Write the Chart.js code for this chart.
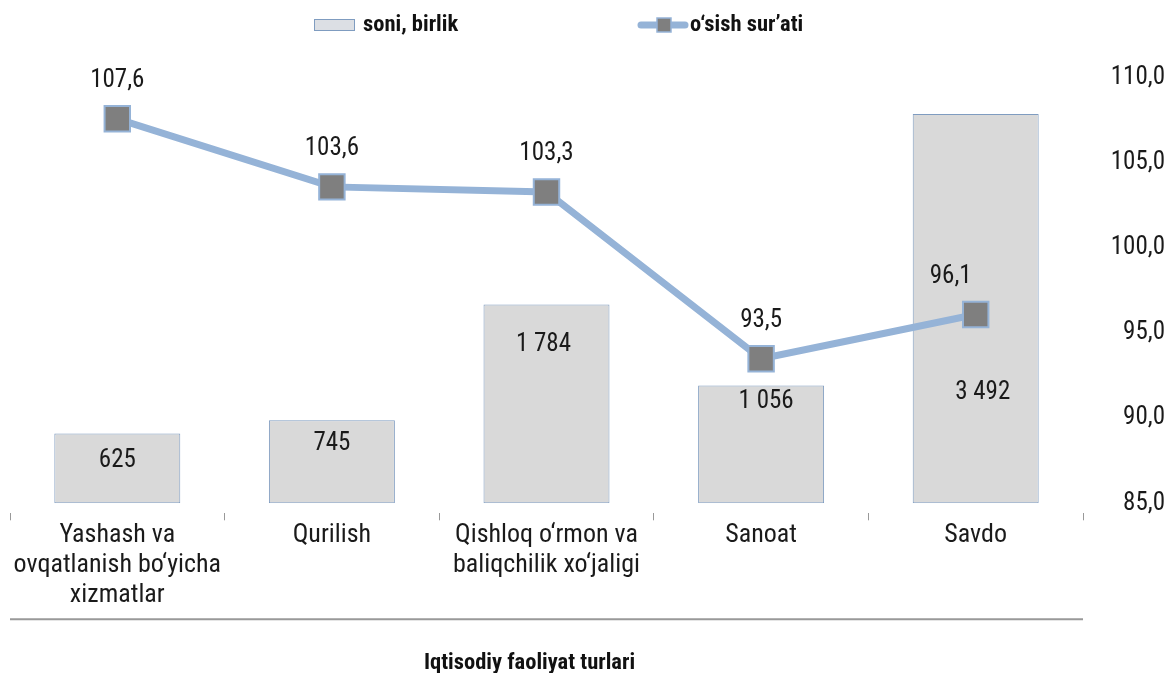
<!DOCTYPE html>
<html>
<head>
<meta charset="utf-8">
<script src="https://cdn.jsdelivr.net/npm/chart.js@4/dist/chart.umd.min.js"></script>
<style>
  body { margin: 0; background: #fff; }
  #wrap { width: 1175px; height: 673px; position: relative; }
</style>
</head>
<body>
<div id="wrap"><canvas id="chart"></canvas></div>
<script>
// ma'lumotlar
const turlar = [
  ['Yashash va', 'ovqatlanish bo‘yicha', 'xizmatlar'],
  'Qurilish',
  ['Qishloq o‘rmon va', 'baliqchilik xo‘jaligi'],
  'Sanoat',
  'Savdo'
];
const soni = [625, 745, 1784, 1056, 3492];
const osish = [107.6, 103.6, 103.3, 93.5, 96.1];
const osishTicks = [85, 90, 95, 100, 105, 110];

// yozuvlar joylashuvi (faqat ko'rinish uchun)
const barLabelDy = [27, 24, 40, 16, 279];
const barLabelDx = [0, 0, -3, 5, 7];
const lineLabelDx = [0, 0, 0, 0, -25];

const FONT = "'Roboto Condensed', 'DejaVu Sans Condensed', Roboto, sans-serif";
const TEXT = '#1a1a1a';
const BAR_FILL = '#d9d9d9';
const BAR_EDGE = '#7f9cc0';
const LINE = '#95b3d7';
const MARK = '#7f7f7f';

Chart.defaults.font.family = FONT;
Chart.defaults.font.size = 25;
Chart.defaults.color = TEXT;

const fmtInt = v => String(v).replace(/\B(?=(\d{3})+(?!\d))/g, ' ');
const fmtDec = v => Number(v).toFixed(1).replace('.', ',');

// qiymat yozuvlari, legenda, sarlavha va pastki chiziq
const extras = {
  id: 'extras',
  afterDatasetsDraw(chart) {
    const ctx = chart.ctx;
    ctx.save();
    ctx.font = '25px ' + FONT;
    ctx.fillStyle = TEXT;
    ctx.textAlign = 'center';
    ctx.textBaseline = 'middle';
    chart.getDatasetMeta(0).data.forEach((bar, i) => {
      ctx.fillText(fmtInt(soni[i]), bar.x + barLabelDx[i], bar.y + barLabelDy[i]);
    });
    chart.getDatasetMeta(1).data.forEach((pt, i) => {
      ctx.fillText(fmtDec(osish[i]), pt.x + lineLabelDx[i], pt.y - 38);
    });
    ctx.restore();
  },
  afterDraw(chart) {
    const ctx = chart.ctx;
    const area = chart.chartArea;
    ctx.save();
    // pastki kulrang chiziq
    const ly = chart.scales.x.top + 116;
    ctx.strokeStyle = '#999';
    ctx.lineWidth = 2;
    ctx.beginPath();
    ctx.moveTo(area.left, ly);
    ctx.lineTo(area.right, ly);
    ctx.stroke();

    // o'q sarlavhasi
    ctx.font = 'bold 22.5px ' + FONT;
    ctx.fillStyle = '#111';
    ctx.textAlign = 'center';
    ctx.textBaseline = 'middle';
    ctx.fillText('Iqtisodiy faoliyat turlari', (area.left + area.right) / 2 - 17, ly + 44);

    // legenda
    const y = 25;
    ctx.fillStyle = '#dcdfe4';
    ctx.fillRect(314, y - 6, 41, 12);
    ctx.strokeStyle = BAR_EDGE;
    ctx.lineWidth = 1;
    ctx.strokeRect(314.5, y - 5.5, 40, 11);
    ctx.fillStyle = '#111';
    ctx.textAlign = 'left';
    ctx.fillText('soni, birlik', 363, y);

    ctx.strokeStyle = LINE;
    ctx.lineWidth = 7;
    ctx.lineCap = 'round';
    ctx.beginPath();
    ctx.moveTo(641, y);
    ctx.lineTo(685, y);
    ctx.stroke();
    ctx.fillStyle = MARK;
    ctx.fillRect(657, y - 7, 14, 14);
    ctx.strokeStyle = LINE;
    ctx.lineWidth = 1.5;
    ctx.strokeRect(657, y - 7, 14, 14);
    ctx.fillStyle = '#111';
    ctx.fillText('o‘sish sur’ati', 690, y);
    ctx.restore();
  }
};

const ctx = document.getElementById('chart').getContext('2d');
const chart = new Chart(ctx, {
  type: 'bar',
  data: {
    labels: turlar,
    datasets: [{
      type: 'bar',
      label: 'soni, birlik',
      data: soni,
      yAxisID: 'y',
      backgroundColor: BAR_FILL,
      borderColor: BAR_EDGE,
      borderWidth: 1,
      borderSkipped: false,
      categoryPercentage: 1,
      barPercentage: 0.587,
      order: 1
    }, {
      type: 'line',
      label: 'o‘sish sur’ati',
      data: osish,
      yAxisID: 'y1',
      borderColor: LINE,
      borderWidth: 7,
      pointStyle: 'rect',
      pointRadius: 18,
      pointHoverRadius: 18,
      pointBackgroundColor: MARK,
      pointBorderColor: LINE,
      pointBorderWidth: 2,
      order: 0
    }]
  },
  options: {
    responsive: true,
    maintainAspectRatio: false,
    animation: false,
    layout: { autoPadding: false, padding: { top: 78, left: 10, right: 10, bottom: 63 } },
    plugins: {
      legend: { display: false },
      tooltip: { enabled: false }
    },
    scales: {
      x: {
        grid: {
          display: true,
          drawOnChartArea: false,
          offset: true,
          tickLength: 17,
          color: '#999',
          tickBorderDash: [0, 10, 8, 60]
        },
        border: { display: false },
        afterFit: axis => { axis.paddingLeft = 0; axis.paddingRight = 0; },
        ticks: {
          padding: 0,
          maxRotation: 0,
          autoSkip: false,
          font: { size: 26, lineHeight: 1.15 },
          color: TEXT
        }
      },
      y: {
        display: false,
        min: 0,
        max: 3815
      },
      y1: {
        position: 'right',
        min: osishTicks[0],
        max: osishTicks[osishTicks.length - 1],
        grid: { display: false, drawTicks: false },
        border: { display: false },
        afterBuildTicks: axis => { axis.ticks = osishTicks.map(v => ({ value: v })); },
        afterFit: axis => { axis.width = 82; },
        ticks: {
          padding: 0,
          crossAlign: 'far',
          callback: v => fmtDec(v),
          font: { size: 25 },
          color: TEXT
        }
      }
    }
  },
  plugins: [extras]
});
</script>
</body>
</html>
